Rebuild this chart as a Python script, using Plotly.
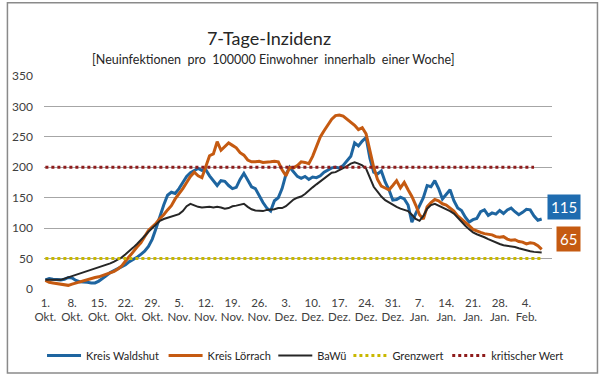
import pandas as pd
import plotly.graph_objects as go

start_date = "2020-10-01"

waldshut = [15, 17, 16, 15, 15, 16, 19, 18, 14, 12, 12, 11, 10, 10, 13, 17, 22, 27, 30, 33,
            36, 40, 45, 48, 52, 57, 62, 70, 82, 100, 120, 138, 154, 159, 157, 165, 175, 185, 191, 195,
            198, 195, 196, 186, 178, 170, 178, 177, 170, 165, 167, 180, 190, 178, 168, 165, 153, 142, 133, 128,
            145, 150, 165, 188, 200, 193, 185, 182, 185, 180, 184, 183, 186, 192, 196, 199, 200, 199, 203, 210,
            218, 240, 235, 243, 249, 215, 192, 189, 194, 176, 163, 146, 147, 151, 148, 138, 110, 124, 137, 150,
            170, 168, 178, 165, 148, 155, 163, 145, 133, 129, 118, 110, 114, 116, 127, 130, 121, 125, 123, 129,
            124, 130, 133, 127, 122, 126, 131, 130, 120, 113, 115]

loerrach = [14, 11, 10, 9, 8, 7, 6, 8, 10, 12, 13, 15, 17, 19, 20, 22, 25, 27, 29, 33,
            38, 46, 53, 61, 69, 76, 86, 96, 102, 108, 116, 122, 130, 137, 148, 156, 165, 175, 185, 192,
            186, 183, 200, 219, 222, 242, 228, 234, 240, 236, 232, 224, 220, 212, 209, 209, 210, 208, 208, 209,
            210, 209, 196, 186, 200, 199, 203, 209, 208, 206, 218, 234, 250, 260, 270, 279, 285, 286, 284, 279,
            273, 269, 262, 265, 255, 228, 200, 180, 169, 166, 163, 170, 178, 166, 175, 163, 152, 138, 122, 115,
            135, 142, 147, 145, 140, 138, 133, 128, 120, 115, 110, 104, 98, 95, 93, 91, 90, 89, 86, 85,
            86, 82, 80, 81, 78, 77, 74, 76, 75, 71, 65]

bawue = [15, 15, 14, 14, 15, 17, 19, 21, 23, 25, 27, 29, 32, 34, 36, 38, 40, 42, 45, 48,
         52, 57, 62, 68, 74, 80, 87, 94, 100, 107, 112, 115, 117, 118, 120, 123, 128, 136, 140, 137,
         135, 134, 135, 135, 134, 135, 134, 132, 133, 136, 137, 138, 140, 135, 131, 129, 129, 128, 130, 130,
         131, 133, 133, 136, 142, 147, 150, 152, 156, 162, 167, 172, 177, 182, 187, 191, 192, 195, 199, 202,
         206, 208, 206, 203, 198, 183, 168, 160, 152, 146, 142, 139, 135, 132, 130, 128, 122, 115, 112, 120,
         132, 138, 140, 137, 134, 132, 128, 124, 117, 110, 104, 98, 93, 90, 88, 85, 82, 79, 76, 74,
         72, 71, 71, 69, 67, 65, 64, 62, 61, 60, 60]

grenzwert = [50] * 131
kritisch = [200] * 129

tick_labels = ["1.<br>Okt.", "8.<br>Okt.", "15.<br>Okt.", "22.<br>Okt.", "29.<br>Okt.",
               "5.<br>Nov.", "12.<br>Nov.", "19.<br>Nov.", "26.<br>Nov.", "3.<br>Dez.",
               "10.<br>Dez.", "17.<br>Dez.", "24.<br>Dez.", "31.<br>Dez.", "7.<br>Jan.",
               "14.<br>Jan.", "21.<br>Jan.", "28.<br>Jan.", "4.<br>Feb."]

dates = pd.date_range(start_date, periods=len(waldshut), freq="D")
tick_dates = pd.date_range(start_date, periods=len(tick_labels), freq="7D")

FONT = "Lato"
TXT = "#404040"

L, R, T, B = 38, 48, 76, 88
W, H = 600 - L - R, 382 - T - B

series = [
    ("Kreis Waldshut", dates, waldshut, dict(color="#1e65a0", width=3), "legend", 36),
    ("Kreis Lörrach", dates, loerrach, dict(color="#c55a11", width=3), "legend2", 159),
    ("BaWü", dates, bawue, dict(color="#262626", width=2), "legend3", 270),
    ("Grenzwert", dates[:len(grenzwert)], grenzwert, dict(color="#c9b800", width=3, dash="dot"), "legend4", 346),
    ("kritischer Wert", dates[:len(kritisch)], kritisch, dict(color="#8e1b1b", width=3, dash="dot"), "legend5", 446),
]

fig = go.Figure()
legend_layout = {}
for name, xs, ys, line, leg, px in series:
    fig.add_trace(go.Scatter(x=xs, y=ys, mode="lines", name=name, line=line, legend=leg))
    legend_layout[leg] = dict(orientation="h", x=(px - L) / W, xanchor="left",
                              y=-(362 - (T + H)) / H, yanchor="middle",
                              font=dict(family=FONT, size=11, color="#262626"),
                              itemwidth=34, bgcolor="rgba(0,0,0,0)", borderwidth=0)

# end value labels
fig.add_annotation(x=dates[-1], y=waldshut[-1], text=str(waldshut[-1]), showarrow=False,
                   xanchor="left", yanchor="middle", xshift=5, yshift=12,
                   font=dict(family=FONT, size=15, color="white"),
                   bgcolor="#1f6cb0", borderpad=3)
fig.add_annotation(x=dates[-1], y=loerrach[-1], text=str(loerrach[-1]), showarrow=False,
                   xanchor="left", yanchor="middle", xshift=14, yshift=10,
                   font=dict(family=FONT, size=15, color="white"),
                   bgcolor="#c55a11", borderpad=3)

# subtitle
fig.add_annotation(xref="paper", yref="paper", x=(270 - L) / W, y=(T + H - 59) / H, showarrow=False,
                   text="[Neuinfektionen  pro  100000 Einwohner  innerhalb  einer Woche]",
                   font=dict(family=FONT, size=12.5, color="#262626"),
                   xanchor="center", yanchor="middle")

# outer frame
fig.add_shape(type="rect", xref="paper", yref="paper",
              x0=(1 - L) / W, x1=(598 - L) / W, y0=-(380 - T - H) / H, y1=1 + (T - 1) / H,
              line=dict(color="#8a8a8a", width=1.5), fillcolor="rgba(0,0,0,0)", layer="below")

fig.update_layout(
    width=600, height=382,
    margin=dict(l=L, r=R, t=T, b=B),
    paper_bgcolor="white", plot_bgcolor="white",
    font=dict(family=FONT, size=12, color=TXT),
    title=dict(text="7-Tage-Inzidenz", x=269 / 600, xref="container", xanchor="center",
               y=1 - 39 / 382, yref="container", yanchor="middle",
               font=dict(family=FONT, size=18, color="#262626")),
    showlegend=True,
    **legend_layout,
)
fig.update_xaxes(type="date",
                 range=["2020-09-30 15:20", "2021-02-10 16:50"],
                 tickvals=tick_dates, ticktext=tick_labels, tickangle=0,
                 showgrid=False, showline=False, zeroline=False, ticks="",
                 ticklabelstandoff=5,
                 tickfont=dict(family=FONT, size=11.5, color=TXT))
fig.update_yaxes(range=[0, 350], tickvals=[0, 50, 100, 150, 200, 250, 300, 350],
                 showgrid=True, gridcolor="#a6a6a6", gridwidth=1, zeroline=False,
                 showline=False, ticks="", ticklabelstandoff=10,
                 tickfont=dict(family=FONT, size=12, color=TXT))

fig.write_html("out.html", config={"displayModeBar": False},
               post_script="document.body.style.margin='0';")
